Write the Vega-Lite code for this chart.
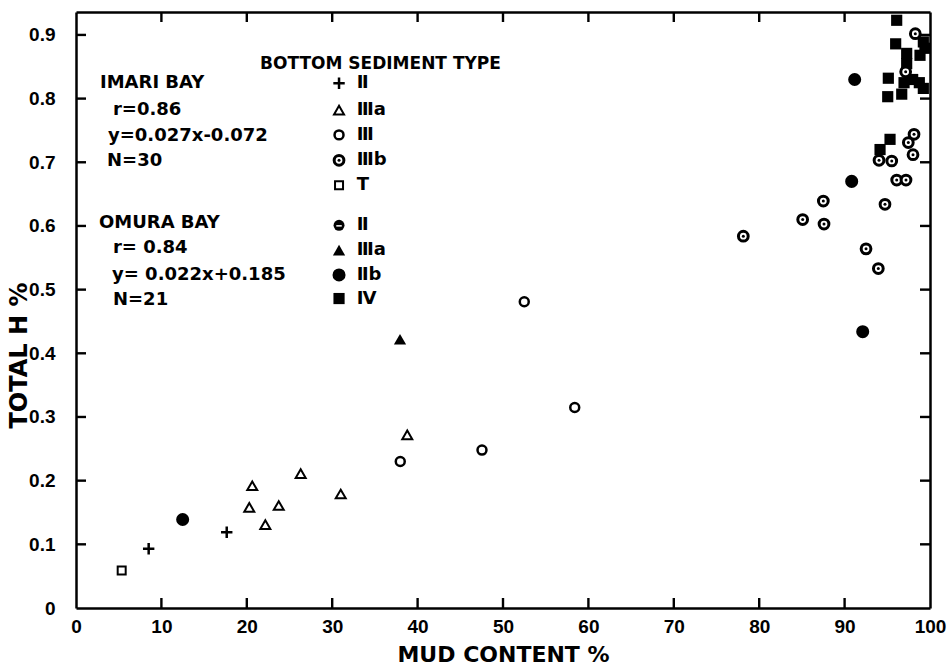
{
  "$schema": "https://vega.github.io/schema/vega-lite/v6.json",
  "width": 854,
  "height": 596,
  "autosize": {"type": "none"},
  "padding": {"left": 76, "top": 12, "right": 17, "bottom": 57},
  "background": "white",
  "config": {"view": {"stroke": null}, "font": "DejaVu Sans"},
  "datasets": {
    "pts": [
      {"x": 8.51, "y": 0.093, "type": "plus"},
      {"x": 17.65, "y": 0.119, "type": "plus"},
      {"x": 20.29, "y": 0.158, "type": "tri_open"},
      {"x": 20.64, "y": 0.192, "type": "tri_open"},
      {"x": 22.17, "y": 0.131, "type": "tri_open"},
      {"x": 23.74, "y": 0.161, "type": "tri_open"},
      {"x": 26.31, "y": 0.211, "type": "tri_open"},
      {"x": 31.0, "y": 0.179, "type": "tri_open"},
      {"x": 38.79, "y": 0.272, "type": "tri_open"},
      {"x": 37.97, "y": 0.230, "type": "circ_open"},
      {"x": 47.54, "y": 0.248, "type": "circ_open"},
      {"x": 52.49, "y": 0.481, "type": "circ_open"},
      {"x": 58.40, "y": 0.315, "type": "circ_open"},
      {"x": 5.35, "y": 0.059, "type": "sq_open"},
      {"x": 98.28, "y": 0.902, "type": "ringed"},
      {"x": 97.15, "y": 0.842, "type": "ringed"},
      {"x": 98.13, "y": 0.744, "type": "ringed"},
      {"x": 97.46, "y": 0.731, "type": "ringed"},
      {"x": 98.01, "y": 0.712, "type": "ringed"},
      {"x": 94.03, "y": 0.703, "type": "ringed"},
      {"x": 95.52, "y": 0.702, "type": "ringed"},
      {"x": 96.10, "y": 0.672, "type": "ringed"},
      {"x": 97.19, "y": 0.672, "type": "ringed"},
      {"x": 94.73, "y": 0.634, "type": "ringed"},
      {"x": 92.51, "y": 0.564, "type": "ringed"},
      {"x": 93.95, "y": 0.533, "type": "ringed"},
      {"x": 78.14, "y": 0.584, "type": "ringed"},
      {"x": 87.51, "y": 0.639, "type": "ringed"},
      {"x": 85.09, "y": 0.610, "type": "ringed"},
      {"x": 87.59, "y": 0.603, "type": "ringed"},
      {"x": 37.94, "y": 0.422, "type": "tri_filled"},
      {"x": 12.49, "y": 0.139, "type": "circ_filled"},
      {"x": 91.18, "y": 0.830, "type": "circ_filled"},
      {"x": 90.83, "y": 0.670, "type": "circ_filled"},
      {"x": 92.12, "y": 0.434, "type": "circ_filled"},
      {"x": 96.10, "y": 0.923, "type": "sq_filled"},
      {"x": 95.98, "y": 0.886, "type": "sq_filled"},
      {"x": 99.22, "y": 0.889, "type": "sq_filled"},
      {"x": 99.41, "y": 0.879, "type": "sq_filled"},
      {"x": 98.83, "y": 0.868, "type": "sq_filled"},
      {"x": 97.27, "y": 0.871, "type": "sq_filled"},
      {"x": 97.27, "y": 0.855, "type": "sq_filled"},
      {"x": 95.12, "y": 0.832, "type": "sq_filled"},
      {"x": 96.96, "y": 0.825, "type": "sq_filled"},
      {"x": 97.97, "y": 0.830, "type": "sq_filled"},
      {"x": 98.75, "y": 0.825, "type": "sq_filled"},
      {"x": 99.22, "y": 0.816, "type": "sq_filled"},
      {"x": 96.69, "y": 0.807, "type": "sq_filled"},
      {"x": 95.05, "y": 0.803, "type": "sq_filled"},
      {"x": 95.32, "y": 0.736, "type": "sq_filled"},
      {"x": 94.15, "y": 0.720, "type": "sq_filled"},
      {"x": 30.8, "y": 0.824, "type": "plus"},
      {"x": 30.8, "y": 0.782, "type": "tri_open"},
      {"x": 30.8, "y": 0.743, "type": "circ_open"},
      {"x": 30.8, "y": 0.703, "type": "ringed"},
      {"x": 30.8, "y": 0.664, "type": "sq_open"},
      {"x": 30.8, "y": 0.601, "type": "omura_II"},
      {"x": 30.8, "y": 0.562, "type": "tri_filled"},
      {"x": 30.8, "y": 0.523, "type": "circ_filled"},
      {"x": 30.8, "y": 0.486, "type": "sq_filled"}
    ],
    "axisticks": [
      {"x": 10, "y": 0, "side": "b"}, {"x": 20, "y": 0, "side": "b"}, {"x": 30, "y": 0, "side": "b"},
      {"x": 40, "y": 0, "side": "b"}, {"x": 50, "y": 0, "side": "b"}, {"x": 60, "y": 0, "side": "b"},
      {"x": 70, "y": 0, "side": "b"}, {"x": 80, "y": 0, "side": "b"}, {"x": 90, "y": 0, "side": "b"},
      {"x": 10, "y": 0.936, "side": "t"}, {"x": 20, "y": 0.936, "side": "t"}, {"x": 30, "y": 0.936, "side": "t"},
      {"x": 40, "y": 0.936, "side": "t"}, {"x": 50, "y": 0.936, "side": "t"}, {"x": 60, "y": 0.936, "side": "t"},
      {"x": 70, "y": 0.936, "side": "t"}, {"x": 80, "y": 0.936, "side": "t"}, {"x": 90, "y": 0.936, "side": "t"},
      {"x": 0, "y": 0.1, "side": "l"}, {"x": 0, "y": 0.2, "side": "l"}, {"x": 0, "y": 0.3, "side": "l"},
      {"x": 0, "y": 0.4, "side": "l"}, {"x": 0, "y": 0.5, "side": "l"}, {"x": 0, "y": 0.6, "side": "l"},
      {"x": 0, "y": 0.7, "side": "l"}, {"x": 0, "y": 0.8, "side": "l"}, {"x": 0, "y": 0.9, "side": "l"},
      {"x": 100, "y": 0.1, "side": "r"}, {"x": 100, "y": 0.2, "side": "r"}, {"x": 100, "y": 0.3, "side": "r"},
      {"x": 100, "y": 0.4, "side": "r"}, {"x": 100, "y": 0.5, "side": "r"}, {"x": 100, "y": 0.6, "side": "r"},
      {"x": 100, "y": 0.7, "side": "r"}, {"x": 100, "y": 0.8, "side": "r"}, {"x": 100, "y": 0.9, "side": "r"}
    ],
    "txt": [
      {"x": 21.55, "y": 0.855, "label": "BOTTOM SEDIMENT TYPE", "kind": "header"},
      {"x": 2.81, "y": 0.824, "label": "IMARI BAY", "kind": "text"},
      {"x": 4.33, "y": 0.782, "label": "r=0.86", "kind": "text"},
      {"x": 3.75, "y": 0.741, "label": "y=0.027x-0.072", "kind": "text"},
      {"x": 3.63, "y": 0.702, "label": "N=30", "kind": "text"},
      {"x": 2.69, "y": 0.604, "label": "OMURA BAY", "kind": "text"},
      {"x": 4.33, "y": 0.565, "label": "r= 0.84", "kind": "text"},
      {"x": 4.22, "y": 0.523, "label": "y= 0.022x+0.185", "kind": "text"},
      {"x": 4.33, "y": 0.484, "label": "N=21", "kind": "text"},
      {"x": 32.87, "y": 0.824, "label": "Ⅱ", "kind": "text"},
      {"x": 32.87, "y": 0.782, "label": "Ⅲa", "kind": "text"},
      {"x": 32.87, "y": 0.743, "label": "Ⅲ", "kind": "text"},
      {"x": 32.87, "y": 0.703, "label": "Ⅲb", "kind": "text"},
      {"x": 32.87, "y": 0.664, "label": "T", "kind": "text"},
      {"x": 32.87, "y": 0.601, "label": "Ⅱ", "kind": "text"},
      {"x": 32.87, "y": 0.562, "label": "Ⅲa", "kind": "text"},
      {"x": 32.87, "y": 0.523, "label": "Ⅱb", "kind": "text"},
      {"x": 32.87, "y": 0.486, "label": "Ⅳ", "kind": "text"}
    ]
  },
  "data": {"name": "pts"},
  "encoding": {
    "x": {"field": "x", "type": "quantitative", "scale": {"domain": [0, 100], "nice": false, "zero": false}, "axis": null},
    "y": {"field": "y", "type": "quantitative", "scale": {"domain": [0, 0.936], "nice": false, "zero": false}, "axis": null}
  },
  "layer": [
    {
      "mark": {"type": "point", "opacity": 0},
      "encoding": {
        "x": {"field": "x", "type": "quantitative", "scale": {"domain": [0, 100], "nice": false, "zero": false},
          "axis": {"orient": "bottom", "values": [0, 10, 20, 30, 40, 50, 60, 70, 80, 90, 100],
            "grid": false, "ticks": false, "tickSize": 0, "domainColor": "black", "domainWidth": 2.5,
            "labelFont": "Liberation Sans", "labelFontWeight": "bold", "labelFontSize": 19, "labelColor": "black",
            "labelPadding": 9, "labelFlush": false, "labelOverlap": false,
            "title": "MUD CONTENT %", "titleFont": "DejaVu Sans", "titleFontWeight": "bold", "titleFontSize": 22,
            "titleColor": "black", "titleBaseline": "alphabetic", "titleY": 53}},
        "y": {"field": "y", "type": "quantitative", "scale": {"domain": [0, 0.936], "nice": false, "zero": false},
          "axis": {"orient": "left", "values": [0, 0.1, 0.2, 0.3, 0.4, 0.5, 0.6, 0.7, 0.8, 0.9],
            "grid": false, "labelExpr": "datum.value === 0 ? '0' : format(datum.value, '.1f')",
            "ticks": false, "tickSize": 0, "domainColor": "black", "domainWidth": 2.5,
            "labelFont": "Liberation Sans", "labelFontWeight": "bold", "labelFontSize": 19, "labelColor": "black",
            "labelPadding": 21, "labelFlush": false, "labelOverlap": false,
            "title": "TOTAL H %", "titleFont": "DejaVu Sans", "titleFontWeight": "bold", "titleFontSize": 24,
            "titleColor": "black", "titleBaseline": "middle", "titleX": -57, "titleY": 343}}
      }
    },
    {
      "mark": {"type": "point", "opacity": 0},
      "encoding": {
        "x": {"field": "x", "type": "quantitative", "scale": {"domain": [0, 100], "nice": false, "zero": false},
          "axis": {"orient": "top", "values": [0, 100], "grid": false, "ticks": false,
            "labels": false, "title": null, "domain": true, "domainColor": "black", "domainWidth": 2.5}},
        "y": {"field": "y", "type": "quantitative", "scale": {"domain": [0, 0.936], "nice": false, "zero": false},
          "axis": {"orient": "right", "values": [0, 0.9], "grid": false, "ticks": false,
            "labels": false, "title": null, "domain": true, "domainColor": "black", "domainWidth": 2.5}}
      }
    },
    {
      "data": {"name": "axisticks"},
      "transform": [{"filter": "datum.side === 'b'"}],
      "mark": {"type": "point", "shape": "M-0.12,0L-0.12,-1L0.12,-1L0.12,0Z", "filled": true, "color": "black", "opacity": 1, "size": 400}
    },
    {
      "data": {"name": "axisticks"},
      "transform": [{"filter": "datum.side === 't'"}],
      "mark": {"type": "point", "shape": "M-0.12,0L-0.12,1L0.12,1L0.12,0Z", "filled": true, "color": "black", "opacity": 1, "size": 400}
    },
    {
      "data": {"name": "axisticks"},
      "transform": [{"filter": "datum.side === 'l'"}],
      "mark": {"type": "point", "shape": "M0,-0.12L1,-0.12L1,0.12L0,0.12Z", "filled": true, "color": "black", "opacity": 1, "size": 400}
    },
    {
      "data": {"name": "axisticks"},
      "transform": [{"filter": "datum.side === 'r'"}],
      "mark": {"type": "point", "shape": "M0,-0.12L-1,-0.12L-1,0.12L0,0.12Z", "filled": true, "color": "black", "opacity": 1, "size": 400}
    },
    {
      "transform": [{"filter": "datum.type === 'sq_filled'"}],
      "mark": {"type": "point", "shape": "square", "filled": true, "color": "black", "opacity": 1, "size": 125}
    },
    {
      "transform": [{"filter": "datum.type === 'circ_filled'"}],
      "mark": {"type": "point", "shape": "circle", "filled": true, "color": "black", "opacity": 1, "size": 170}
    },
    {
      "transform": [{"filter": "datum.type === 'omura_II'"}],
      "mark": {"type": "point", "shape": "circle", "filled": true, "color": "black", "opacity": 1, "size": 120}
    },
    {
      "transform": [{"filter": "datum.type === 'omura_II'"}],
      "mark": {"type": "point", "shape": "M-0.5,0.1L0.5,0.1", "filled": false, "color": "white", "strokeWidth": 1.5, "opacity": 1, "size": 120}
    },
    {
      "transform": [{"filter": "datum.type === 'tri_filled'"}],
      "mark": {"type": "point", "shape": "triangle-up", "filled": true, "color": "black", "opacity": 1, "size": 150}
    },
    {
      "transform": [{"filter": "datum.type === 'ringed'"}],
      "mark": {"type": "point", "shape": "circle", "filled": true, "fill": "white", "stroke": "black", "strokeWidth": 3, "opacity": 1, "size": 95}
    },
    {
      "transform": [{"filter": "datum.type === 'ringed'"}],
      "mark": {"type": "point", "shape": "circle", "filled": true, "color": "black", "opacity": 1, "size": 9}
    },
    {
      "transform": [{"filter": "datum.type === 'circ_open'"}],
      "mark": {"type": "point", "shape": "circle", "filled": false, "color": "black", "strokeWidth": 2.5, "opacity": 1, "size": 80}
    },
    {
      "transform": [{"filter": "datum.type === 'tri_open'"}],
      "mark": {"type": "point", "shape": "triangle-up", "filled": false, "color": "black", "strokeWidth": 2, "opacity": 1, "size": 100}
    },
    {
      "transform": [{"filter": "datum.type === 'sq_open'"}],
      "mark": {"type": "point", "shape": "square", "filled": false, "color": "black", "strokeWidth": 2, "opacity": 1, "size": 64}
    },
    {
      "transform": [{"filter": "datum.type === 'plus'"}],
      "mark": {"type": "point", "shape": "M-1,0L1,0M0,-1L0,1", "filled": false, "color": "black", "strokeWidth": 2.5, "opacity": 1, "size": 130}
    },
    {
      "data": {"name": "txt"},
      "transform": [{"filter": "datum.kind === 'header'"}],
      "mark": {"type": "text", "align": "left", "baseline": "middle", "font": "DejaVu Sans", "fontWeight": "bold", "fontSize": 17, "color": "black"},
      "encoding": {"text": {"field": "label"}}
    },
    {
      "data": {"name": "txt"},
      "transform": [{"filter": "datum.kind === 'text'"}],
      "mark": {"type": "text", "align": "left", "baseline": "middle", "font": "DejaVu Sans", "fontWeight": "bold", "fontSize": 18, "color": "black"},
      "encoding": {"text": {"field": "label"}}
    }
  ],
  "resolve": {"axis": {"x": "independent", "y": "independent"}}
}
